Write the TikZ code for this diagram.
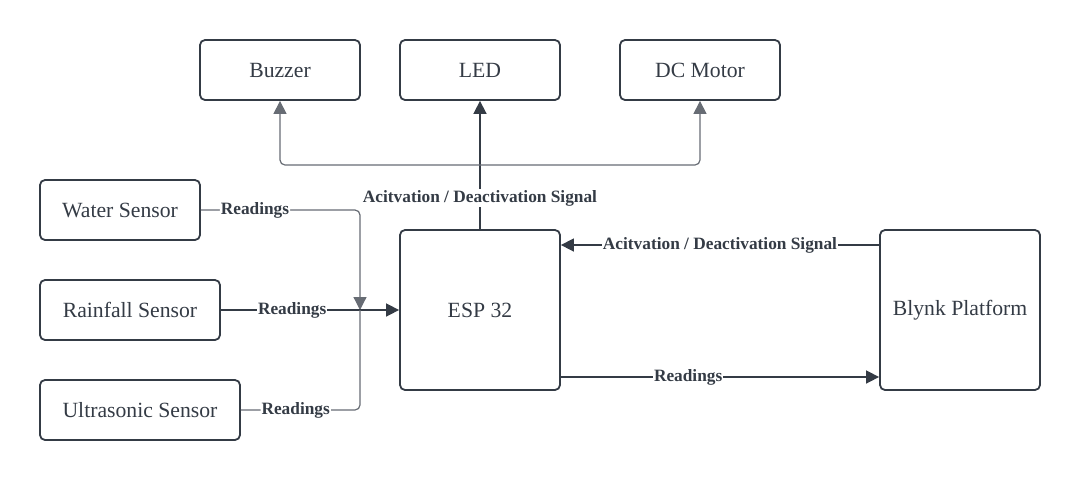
\documentclass[tikz,border=0pt]{standalone}
\usepackage{fontspec}
\setmainfont{Liberation Serif}
\usetikzlibrary{arrows.meta}
\definecolor{ink}{HTML}{343B45}
\definecolor{pale}{HTML}{676C74}
\begin{document}
\begin{tikzpicture}[x=1pt,y=-1pt,>={Triangle[length=13pt,width=13pt]},
	blk/.style={draw=ink,line width=1.8pt,rounded corners=5pt,inner sep=0pt,%
		minimum width=160pt,minimum height=60pt,text=ink,font=\fontsize{21.7}{25}\selectfont},
	lbl/.style={fill=white,inner sep=1pt,text=ink,font=\fontsize{17.3}{20}\selectfont\bfseries},
	wire/.style={draw=ink,line width=1.6pt},
	branch/.style={draw=pale,line width=1.2pt,rounded corners=5pt}]
	\useasboundingbox (0,0) rectangle (1080,480);
	% outputs
	\node[blk] (buz) at (280,70) {Buzzer};
	\node[blk] (led) at (480,70) {LED};
	\node[blk] (dc) at (700,70) {DC Motor};
	% sensors
	\node[blk] (water) at (120,210) {Water Sensor};
	\node[blk,minimum width=180pt] (rain) at (130,310) {Rainfall Sensor};
	\node[blk,minimum width=200pt] (ultra) at (140,410) {Ultrasonic Sensor};
	% controller and cloud
	\node[blk,minimum height=160pt] (esp) at (480,310) {ESP 32};
	\node[blk,minimum height=160pt] (blynk) at (960,310) {Blynk Platform};
	\coordinate (join) at (360,310);
	\coordinate (split) at (480,165);
	
	\draw[branch,->] (water.east) -- node[lbl,pos=0.34]{Readings} (water.east -| join) -- (join);
	\draw[wire,->] (rain.east) -- node[lbl,pos=0.4]{Readings} (esp.west);
	\draw[branch] (ultra.east) -- node[lbl,pos=0.46]{Readings} (ultra.east -| join) -- (join);
	\draw[wire,->] (esp.north) -- node[lbl,pos=0.24]{Acitvation / Deactivation Signal} (led.south);
	\draw[branch,->] (split) -| (buz.south);
	\draw[branch,->] (split) -| (dc.south);
	\draw[wire,->] ([yshift=65pt]blynk.west) -- node[lbl]{Acitvation / Deactivation Signal} ([yshift=65pt]esp.east);
	\draw[wire,->] ([yshift=-67pt]esp.east) -- node[lbl,pos=0.4]{Readings} ([yshift=-67pt]blynk.west);
\end{tikzpicture}
\end{document}
